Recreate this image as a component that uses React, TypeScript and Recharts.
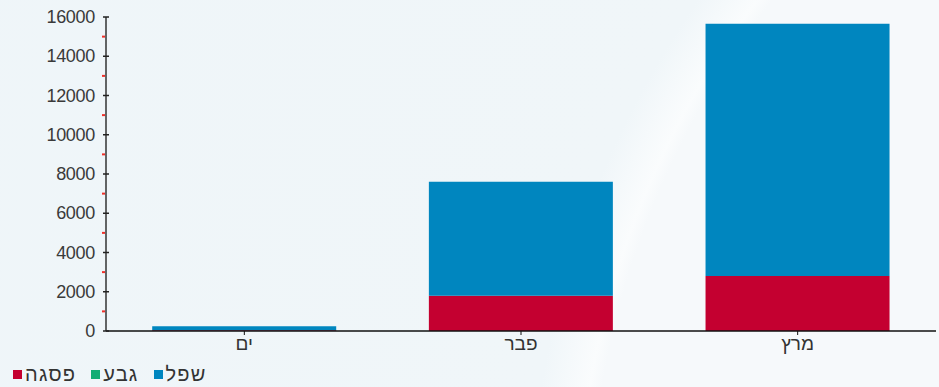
import { BarChart, Bar, XAxis, YAxis, Legend } from "recharts";

const categories = ["ים", "פבר", "מרץ"];
const peakValues = [40, 1800, 2800]; // פסגה
const midValues = [0, 0, 0]; // גבע
const lowValues = [200, 5800, 12850]; // שפל
const yTicks = [
  0, 1000, 2000, 3000, 4000, 5000, 6000, 7000, 8000, 9000, 10000, 11000,
  12000, 13000, 14000, 15000, 16000,
];

const series = [
  { key: "peak", name: "פסגה", color: "#c40030", values: peakValues },
  { key: "mid", name: "גבע", color: "#12ad74", values: midValues },
  { key: "low", name: "שפל", color: "#0086bf", values: lowValues },
];

const data = categories.map((c, i) => {
  const row: Record<string, string | number> = { name: c };
  series.forEach((s) => {
    row[s.key] = s.values[i];
  });
  return row;
});

const FONT = '"Liberation Sans", Arial, sans-serif';

function YTick(props: any) {
  const { x, y, payload } = props;
  const v = payload.value as number;
  if (v % 2000 !== 0) {
    return (
      <line x1={x - 4} x2={x - 1} y1={y} y2={y} stroke="#f0302a" strokeWidth={2} />
    );
  }
  return (
    <g>
      <line x1={x - 3} x2={x + 3} y1={y} y2={y} stroke="#222" strokeWidth={1.5} />
      <text
        x={x - 11}
        y={y}
        dy={6}
        textAnchor="end"
        fill="#3a3a3a"
        fontSize={18}
        fontFamily={FONT}
        letterSpacing={-0.3}
      >
        {v}
      </text>
    </g>
  );
}

function LegendBox() {
  return (
    <div
      style={{
        height: 26,
        display: "flex",
        alignItems: "center",
        gap: 15,
        fontFamily: FONT,
        fontSize: 20,
        letterSpacing: 1.2,
        color: "#333",
      }}
    >
      {series.map((s) => (
        <span key={s.key} style={{ display: "flex", alignItems: "center", gap: 3 }}>
          <span
            style={{ width: 9, height: 9, backgroundColor: s.color, display: "inline-block" }}
          />
          <span>{s.name}</span>
        </span>
      ))}
    </div>
  );
}

export default function App() {
  return (
    <div
      style={{
        position: "absolute",
        left: 0,
        top: 0,
        width: 939,
        height: 387,
        overflow: "hidden",
        background:
          "radial-gradient(circle at 1450px 530px, #f6f9fb 0px, #f6f9fb 860px, #fafcfd 872px, #f0f6f9 920px, #eef5f9 2000px)",
      }}
    >
      <BarChart
        width={939}
        height={387}
        data={data}
        margin={{ top: 17, right: 3, left: 0, bottom: 0 }}
        barCategoryGap="16.7%"
      >
        <XAxis
          dataKey="name"
          height={30}
          tickSize={4}
          tickMargin={2}
          axisLine={{ stroke: "#111", strokeWidth: 1.5 }}
          tickLine={{ stroke: "#111" }}
          tick={{ fill: "#333", fontSize: 19, fontFamily: FONT }}
        />
        <YAxis
          width={106}
          domain={[0, 16000]}
          ticks={yTicks}
          interval={0}
          tickSize={0}
          tickMargin={0}
          tickLine={false}
          axisLine={{ stroke: "#333", strokeWidth: 1.5 }}
          tick={<YTick />}
        />
        <Legend
          verticalAlign="bottom"
          align="left"
          content={<LegendBox />}
          wrapperStyle={{ left: 13, bottom: 0, width: 400 }}
        />
        {series.map((s) => (
          <Bar
            key={s.key}
            dataKey={s.key}
            name={s.name}
            stackId="a"
            fill={s.color}
            isAnimationActive={false}
          />
        ))}
      </BarChart>
    </div>
  );
}
